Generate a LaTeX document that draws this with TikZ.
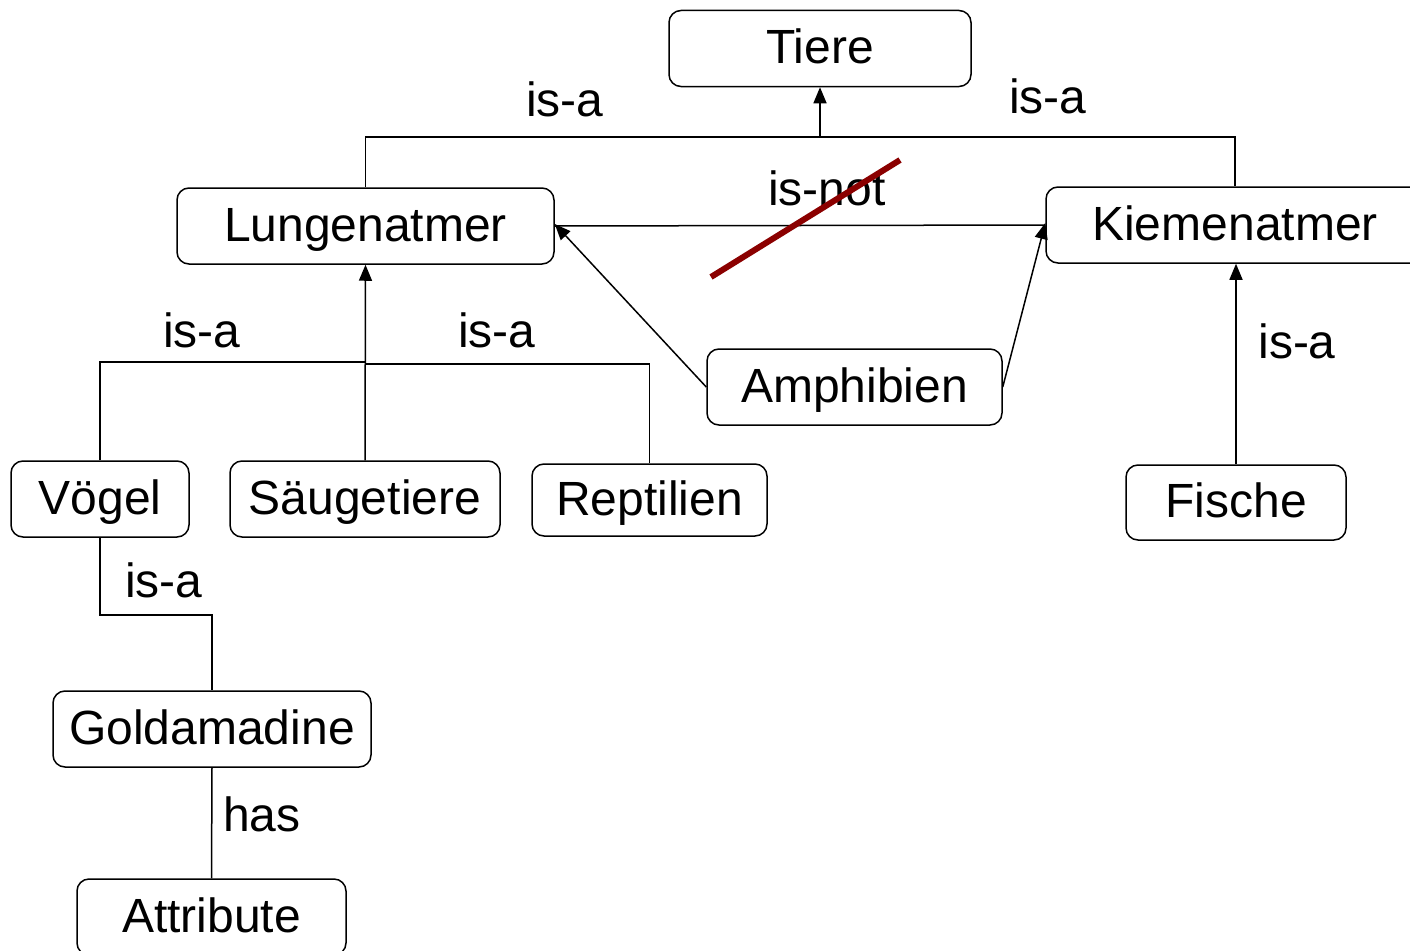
\documentclass[tikz,border=0pt]{standalone}
\usepackage{fontspec}
\setmainfont{Liberation Sans}
\usetikzlibrary{arrows.meta}
\definecolor{strike}{RGB}{139,0,0}
\begin{document}
\begin{tikzpicture}[x=1pt,y=-1pt,
 box/.style={draw, line width=1.5pt, rounded corners=12pt, minimum height=76pt, inner sep=0pt, text height=30pt, text depth=0pt, font=\fontsize{48}{57}\selectfont},
 lbl/.style={inner sep=0pt, text height=34.4pt, text depth=0pt, font=\fontsize{48}{57}\selectfont},
 conn/.style={line width=1.5pt},
 arr/.style={conn, -{Triangle[length=16pt,width=13pt]}}]
\useasboundingbox (0,0) rectangle (1410,950);
\clip (0,0) rectangle (1410,950);
\fill[white] (0,0) rectangle (1410,950);

% boxes
\node[box, minimum width=302pt] (tiere) at (820,48.5) {Tiere};
\node[box, minimum width=377pt] (lung) at (365.5,226) {Lungenatmer};
\node[box, minimum width=378pt] (kiem) at (1235,225) {Kiemenatmer};
\node[box, minimum width=295pt] (amph) at (854.5,387) {Amphibien};
\node[box, minimum width=178pt] (voegel) at (100,499) {Vögel};
\node[box, minimum width=270pt] (saeug) at (365,499) {Säugetiere};
\node[box, minimum width=235pt, minimum height=72pt] (rept) at (649.5,500) {Reptilien};
\node[box, minimum width=220pt, minimum height=75pt] (fische) at (1236,502.5) {Fische};
\node[box, minimum width=318pt] (gold) at (212,729) {Goldamadine};
\node[box, minimum width=269pt] (attr) at (211.5,917) {Attribute};

% labels
\node[lbl] (l1) at (565,99) {is-a};
\node[lbl] (l2) at (1048,96) {is-a};
\node[lbl] (l3) at (827,188) {is-not};
\node[lbl] (l4) at (202,330) {is-a};
\node[lbl] (l5) at (497,330) {is-a};
\node[lbl] (l6) at (1297,341) {is-a};
\node[lbl] (l7) at (164,580) {is-a};
\node[lbl] (l8) at (262,814) {has};

% junctions
\coordinate (tj) at (820,137);
\coordinate (jl) at (365,362);
\coordinate (jr) at (365,364);

% Tiere tree
\draw[conn] (lung.north) -- (lung.north |- tj) -| (kiem.north);
\draw[arr] (tj) -- (tiere.south);

% is-not line
\draw[conn] (lung.east) -- (kiem.west);
\draw[strike, line width=6pt] (711,277) -- (900,160);

% Amphibien
\draw[arr] (amph.west) -- ([yshift=2pt]lung.east);
\draw[arr] (amph.east) -- ([yshift=2pt]kiem.west);

% Lungenatmer children
\draw[arr] (saeug.north) -- (lung.south);
\draw[conn] (voegel.north) |- (jl);
\draw[conn] (rept.north) |- (jr);

% Voegel -> Goldamadine
\draw[conn] (voegel.south) -- ++(0,77) -| (gold.north);
\draw[conn] (gold.south) -- (attr.north);

% Fische
\draw[arr] (fische.north) -- (fische.north |- kiem.south);
\end{tikzpicture}
\end{document}
